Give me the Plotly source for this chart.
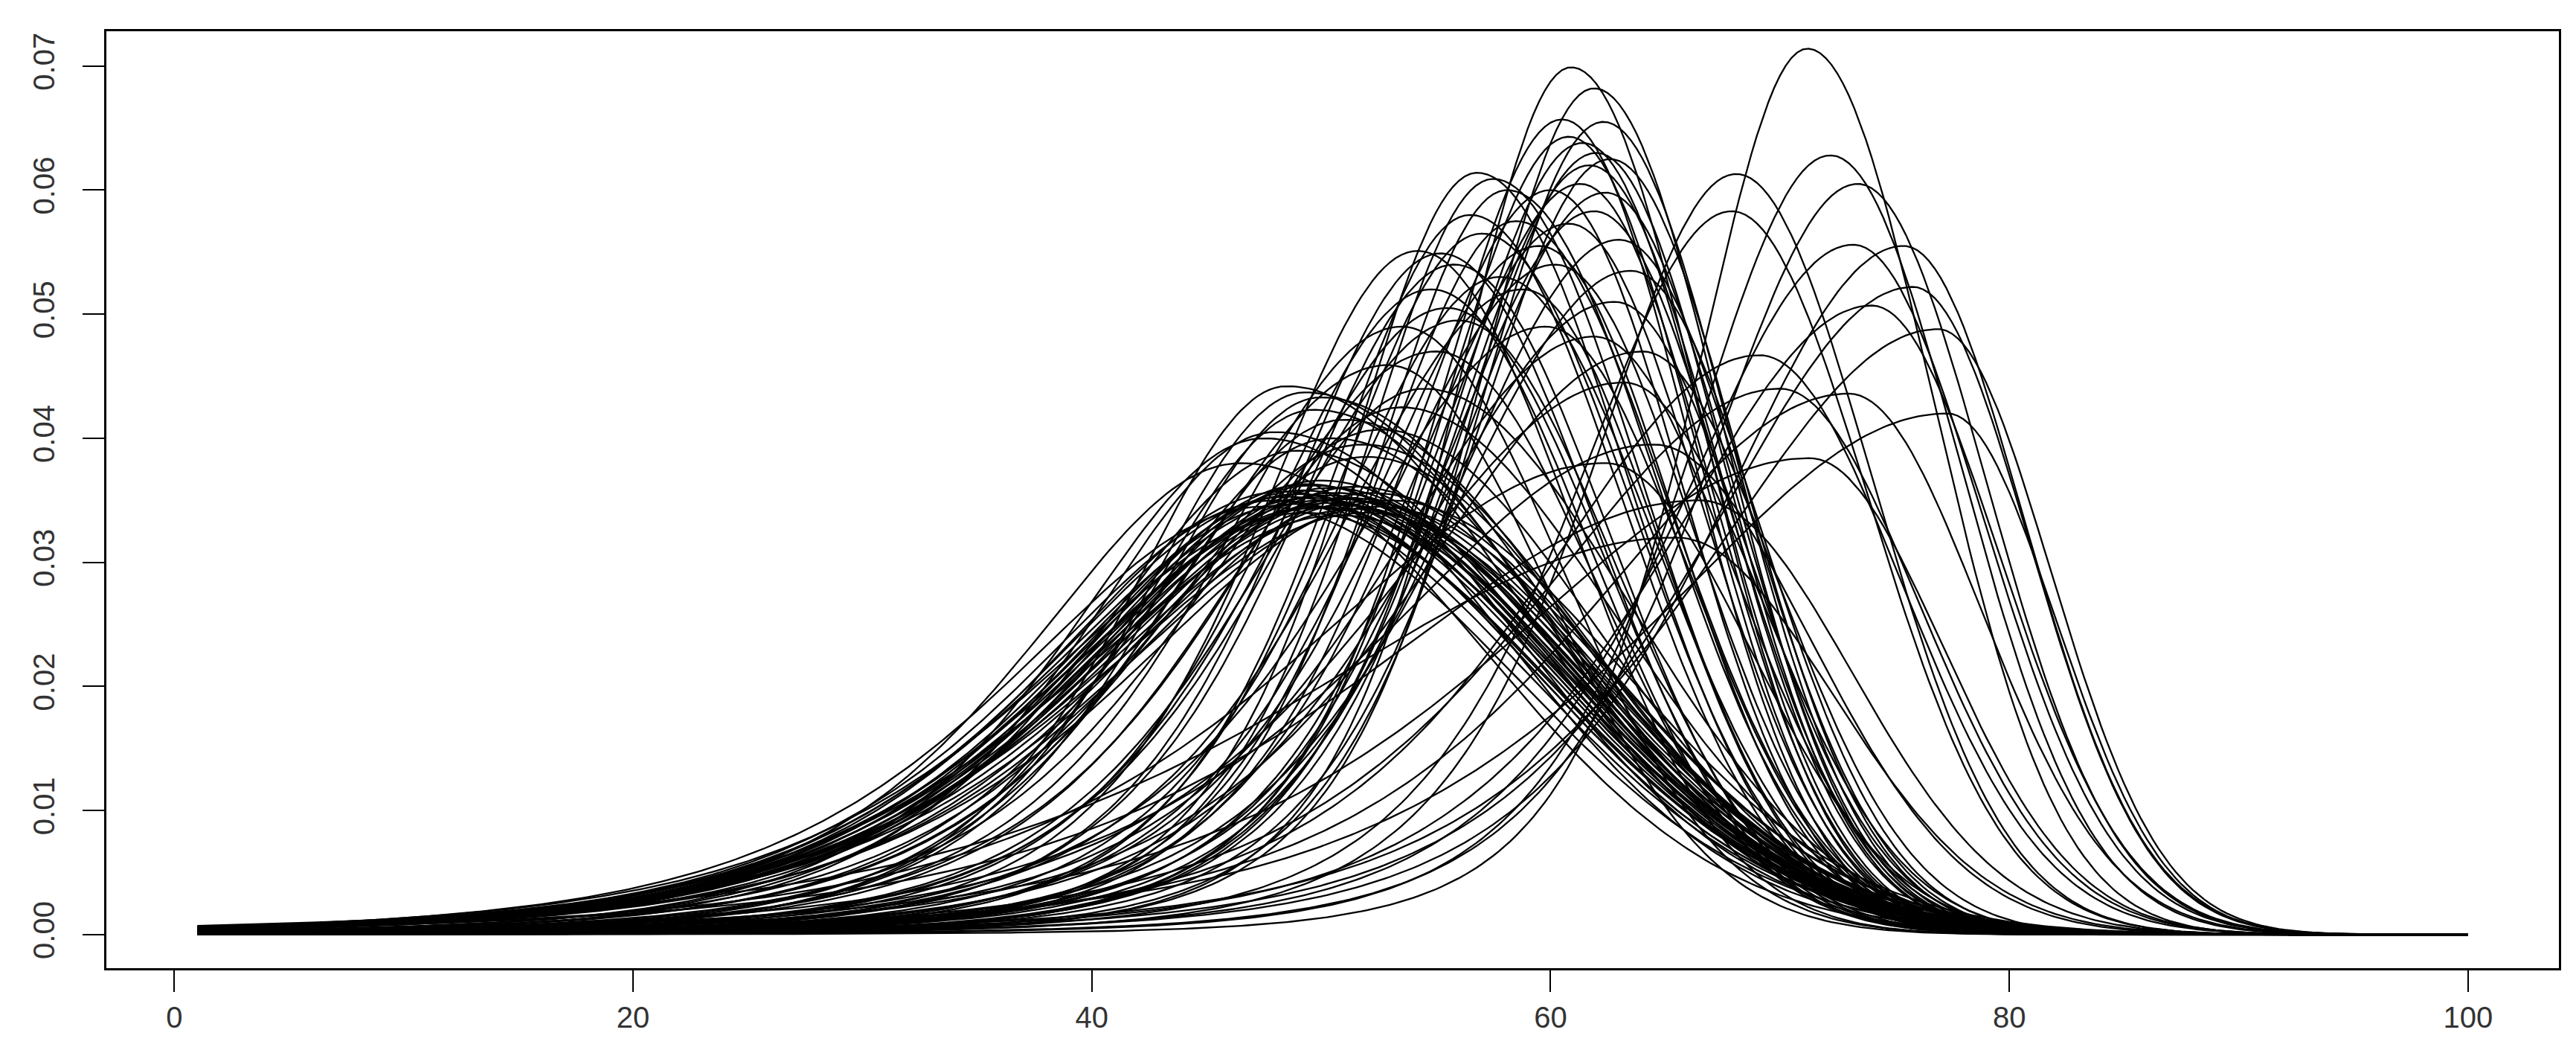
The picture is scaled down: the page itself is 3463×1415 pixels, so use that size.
import numpy as np
import plotly.graph_objects as go

# Per-curve values:
# mode (x of peak), peak height, and x where the curve has fallen to ~zero on the right
modes = [
    # right group
    71.2, 72.2, 68.1, 73.4, 67.9, 73.2, 75.4, 75.8, 74.0, 76.9, 69.1, 71.3, 73.0, 77.3, 70.0, 66.5, 64.5, 65.5,
    # middle group
    60.9, 61.9, 60.5, 62.3, 60.8, 61.4, 62.0, 61.7, 62.6, 62.4, 61.3, 60.0, 61.9, 60.8, 59.5, 63.0, 63.5, 60.2,
    58.8, 62.8, 59.8, 61.9, 64.0, 63.2, 62.4,
    # upper-left group
    56.8, 57.5, 58.1, 58.5, 56.5, 57.0, 54.2, 55.2, 55.8, 57.8, 54.8, 55.5, 56.0, 53.5, 55.0, 52.9,
    # left group
    48.5, 49.3, 50.0, 49.7, 52.6, 51.0, 47.5, 48.0, 50.5, 51.8, 53.5, 52.0, 49.0, 46.5, 54.5,
    # dense bundle
    49.0, 49.5, 50.0, 50.5, 51.0, 51.5, 49.2, 50.2, 48.5, 52.0, 50.8, 49.8, 51.2, 48.8, 50.4,
    48.0, 49.6, 50.6, 51.8, 52.5, 47.5, 50.0, 49.3, 51.5, 53.0,
    48.3, 49.9, 50.9, 52.2, 49.4,
]
peaks = [
    0.0714, 0.0628, 0.0613, 0.0605, 0.0583, 0.0556, 0.0555, 0.0522, 0.0507, 0.0488, 0.0467, 0.0384, 0.0436, 0.0420, 0.0440, 0.0350, 0.0395, 0.0320,
    0.0699, 0.0682, 0.0657, 0.0655, 0.0643, 0.0638, 0.0630, 0.0620, 0.0625, 0.0598, 0.0605, 0.0600, 0.0583, 0.0573, 0.0555, 0.0560, 0.0535, 0.0540,
    0.0520, 0.0510, 0.0490, 0.0482, 0.0470, 0.0445, 0.0380,
    0.0614, 0.0609, 0.0600, 0.0575, 0.0580, 0.0565, 0.0551, 0.0549, 0.0540, 0.0530, 0.0520, 0.0505, 0.0495, 0.0490, 0.0470, 0.0459,
    0.0442, 0.0437, 0.0433, 0.0423, 0.0407, 0.0415, 0.0400, 0.0405, 0.0400, 0.0395, 0.0425, 0.0385, 0.0390, 0.0380, 0.0440,
    0.0355, 0.0352, 0.0350, 0.0348, 0.0346, 0.0343, 0.0358, 0.0354, 0.0353, 0.0340, 0.0338, 0.0345, 0.0352, 0.0347, 0.0360,
    0.0350, 0.0362, 0.0356, 0.0349, 0.0345, 0.0345, 0.0366, 0.0340, 0.0361, 0.0350,
    0.0357, 0.0344, 0.0351, 0.0356, 0.0363,
]
ends = [
    86.5, 88.0, 84.5, 89.0, 84.5, 89.0, 90.0, 90.0, 89.5, 90.5, 86.5, 87.5, 89.0, 90.5, 87.0, 85.0, 83.5, 84.5,
    76.5, 77.5, 76.0, 78.0, 76.5, 77.0, 77.5, 77.5, 78.5, 78.0, 77.0, 76.0, 78.0, 77.0, 76.0, 79.0, 79.5, 77.0,
    75.5, 79.0, 77.0, 79.0, 80.5, 80.0, 80.0,
    75.0, 75.5, 76.5, 77.0, 75.0, 75.5, 73.0, 74.0, 74.5, 76.5, 74.0, 74.5, 75.0, 73.0, 74.5, 72.5,
    77.0, 77.5, 78.0, 78.0, 79.0, 78.5, 76.5, 77.0, 78.5, 79.0, 79.5, 79.0, 78.0, 76.0, 79.5,
    79.0, 79.0, 79.5, 79.5, 80.0, 80.5, 79.0, 79.5, 78.5, 80.5, 80.0, 79.5, 80.0, 79.0, 79.5,
    78.5, 79.5, 80.0, 80.5, 81.0, 78.0, 79.5, 79.0, 80.5, 81.5,
    78.5, 79.5, 80.0, 81.0, 79.0,
]
x_values = np.arange(1, 100.25, 0.25)

NU = 4.0                      # heavy left tail (Student-t kernel)
T_AREA = 4.0 / 3.0            # half-area of the t(4) kernel per unit scale
G_AREA = np.sqrt(np.pi / 2)   # half-area of a gaussian per unit sd
Z_END = 2.797                 # gaussian sd multiples to reach 2 % of peak


def curve(m, h, e):
    # unit-area curve: t-shaped left flank, gaussian right flank,
    # scaled so the peak is (m, h) and the right flank ends at e
    sr = (e - m) / Z_END
    p_left = max(1 - sr * G_AREA * h, 0.3)
    a = p_left / (T_AREA * h)
    d = x_values - m
    left = (1 + d ** 2 / (NU * a * a)) ** (-(NU + 1) / 2)
    right = np.exp(-d ** 2 / (2 * sr * sr))
    return h * np.where(d < 0, left, right)


fig = go.Figure()
for m, h, e in zip(modes, peaks, ends):
    fig.add_trace(go.Scatter(x=x_values, y=curve(m, h, e), mode="lines",
                             line=dict(color="black", width=2.3), showlegend=False,
                             hoverinfo="skip"))

x_ticks = [0, 20, 40, 60, 80, 100]
y_ticks = [0.00, 0.01, 0.02, 0.03, 0.04, 0.05, 0.06, 0.07]
y_tick_text = ["0.00", "0.01", "0.02", "0.03", "0.04", "0.05", "0.06", "0.07"]

font = dict(family="Liberation Sans, Arial, sans-serif", size=40, color="#333333")
fig.update_layout(
    width=3463, height=1415,
    margin=dict(l=135, r=31, t=34, b=122),
    paper_bgcolor="white", plot_bgcolor="white",
    font=font,
)
fig.update_xaxes(range=[-2.96, 103.96], tickvals=x_ticks, ticktext=[str(v) for v in x_ticks],
                 ticks="outside", ticklen=29, tickwidth=2, tickcolor="black",
                 showgrid=False, zeroline=False, showline=True, linecolor="black",
                 linewidth=2.5, mirror=True, tickfont=font)
fig.update_yaxes(range=[-0.0027, 0.0728], tickvals=y_ticks, ticktext=y_tick_text,
                 ticks="outside", ticklen=29, tickwidth=2, tickcolor="black", tickangle=-90,
                 ticklabelstandoff=22,
                 showgrid=False, zeroline=False, showline=True, linecolor="black",
                 linewidth=2.5, mirror=True, tickfont=font)

fig.write_html("out.html")
